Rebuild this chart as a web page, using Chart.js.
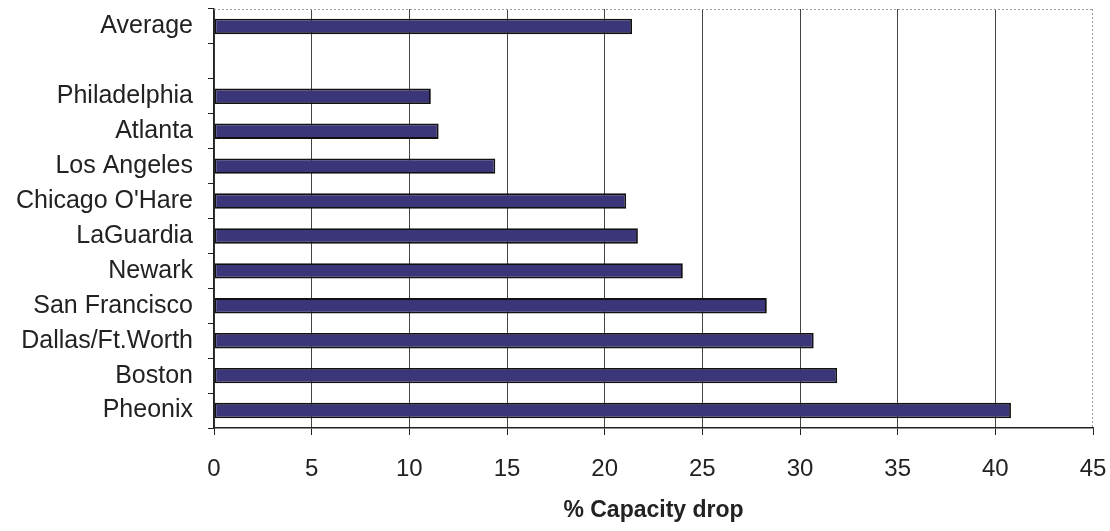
<!DOCTYPE html>
<html>
<head>
<meta charset="utf-8">
<script src="https://cdn.jsdelivr.net/npm/chart.js@4.4.1/dist/chart.umd.min.js"></script>
<style>
  html, body { margin: 0; padding: 0; background: #fff; }
  canvas { display: block; }
</style>
</head>
<body>
<canvas id="capacityChart" width="1110" height="531"></canvas>
<script>
// categories top to bottom (empty slot between Average and the airports)
const airports = ['Average', '', 'Philadelphia', 'Atlanta', 'Los Angeles', "Chicago O'Hare",
  'LaGuardia', 'Newark', 'San Francisco', 'Dallas/Ft.Worth', 'Boston', 'Pheonix'];
const capacityDrop = [21.4, null, 11.1, 11.5, 14.4, 21.1, 21.7, 24.0, 28.3, 30.7, 31.9, 40.8];
const xTicks = [0, 5, 10, 15, 20, 25, 30, 35, 40, 45];

// dotted frame on top and right, like the spreadsheet plot area
const frame = {
  id: 'frame',
  afterDraw(chart) {
    const { ctx, chartArea: a } = chart;
    ctx.save();
    ctx.strokeStyle = '#9a9a9a';
    ctx.lineWidth = 1;
    ctx.setLineDash([2, 2]);
    ctx.beginPath();
    ctx.moveTo(a.left, a.top + 0.5);
    ctx.lineTo(a.right, a.top + 0.5);
    ctx.moveTo(a.right - 0.5, a.top);
    ctx.lineTo(a.right - 0.5, a.bottom);
    ctx.stroke();
    ctx.restore();
  }
};

new Chart(document.getElementById('capacityChart'), {
  type: 'bar',
  data: {
    labels: airports,
    datasets: [{
      data: capacityDrop,
      backgroundColor: '#3b3579',
      borderColor: '#111',
      borderWidth: 1.8,
      borderSkipped: false,
      categoryPercentage: 1,
      barPercentage: 0.44
    }]
  },
  options: {
    indexAxis: 'y',
    responsive: false,
    animation: false,
    layout: { padding: { top: 9, right: 17, bottom: 7, left: 0 } },
    plugins: { legend: { display: false }, tooltip: { enabled: false } },
    scales: {
      x: {
        min: 0,
        max: 45,
        afterBuildTicks(scale) {
          scale.ticks = xTicks.map(v => ({ value: v }));
        },
        afterFit(scale) {
          scale.height = 96;
          scale.paddingLeft = 0;
          scale.paddingRight = 0;
        },
        grid: {
          color: ctx => ctx.tick && ctx.tick.value === 45 ? 'rgba(0,0,0,0)' : '#444',
          lineWidth: 1,
          tickColor: '#222',
          tickLength: 7
        },
        border: { color: '#222', width: 1.5 },
        ticks: {
          color: '#222',
          padding: 20,
          font: { family: 'Liberation Sans, Arial, sans-serif', size: 24 }
        },
        title: {
          display: true,
          text: '% Capacity drop',
          color: '#222',
          padding: 0,
          font: { family: 'Liberation Sans, Arial, sans-serif', size: 23, weight: 'bold' }
        }
      },
      y: {
        afterFit(scale) {
          scale.width = 214;
          scale.paddingTop = 0;
          scale.paddingBottom = 0;
        },
        grid: {
          drawOnChartArea: false,
          offset: true,
          tickColor: '#222',
          tickLength: 6
        },
        border: { color: '#222', width: 1.5 },
        ticks: {
          autoSkip: false,
          color: '#222',
          padding: 15,
          font: { family: 'Liberation Sans, Arial, sans-serif', size: 25 }
        }
      }
    }
  },
  plugins: [frame]
});
</script>
</body>
</html>
